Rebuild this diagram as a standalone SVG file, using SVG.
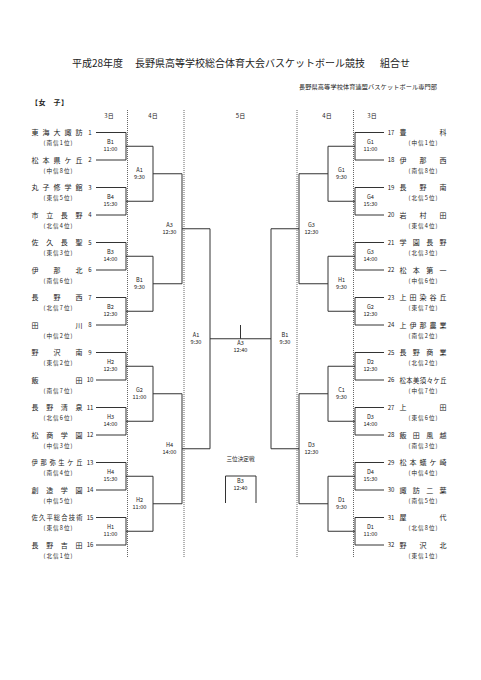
<svg xmlns="http://www.w3.org/2000/svg" width="481" height="680" viewBox="0 0 481 680">
<style>
text{font-family:"Noto Sans CJK JP","Noto Sans",sans-serif;fill:#222}
.ti{font-size:10px}
.st{font-size:6.2px}
.hd{font-size:7px;font-weight:bold}
.dy{font-size:6px;text-anchor:middle}
.nm{font-size:7px}
.nl{font-size:6.3px}
.no{font-size:6px;text-anchor:middle}
.sb{font-size:5.6px;text-anchor:middle}
.lb{font-size:5.6px;text-anchor:middle}
.br{fill:none;stroke:#333;stroke-width:1}
.dl{fill:none;stroke:#666;stroke-width:1;stroke-dasharray:1 1}
</style>
<rect width="481" height="680" fill="#fff"/>
<g id="header">
<text class="ti" y="66.5"><tspan x="72">平成28年度</tspan><tspan x="135" textLength="230" lengthAdjust="spacing">長野県高等学校総合体育大会バスケットボール競技</tspan><tspan x="380">組合せ</tspan></text>
<text class="st" x="299" y="89" textLength="138" lengthAdjust="spacing">長野県高等学校体育連盟バスケットボール専門部</text>
<text class="hd" x="31" y="104.5" textLength="37" lengthAdjust="spacing">【女　子】</text>
<text class="dy" x="109" y="118">3日</text>
<text class="dy" x="153" y="118">4日</text>
<text class="dy" x="240.5" y="118">5日</text>
<text class="dy" x="327" y="118">4日</text>
<text class="dy" x="372" y="118">3日</text>
</g>
<g id="connectors">
<path class="dl" d="M127.5,110V558M184,110V558M297,110V558M353.5,110V558"/>
<path class="br" d="M96,132.5H126V160H96M126,146.25H153 M96,187.5H126V215H96M126,201.25H153 M96,242.5H126V270H96M126,256.25H153 M96,297.5H126V325H96M126,311.25H153 M96,352.5H126V380H96M126,366.25H153 M96,407.5H126V435H96M126,421.25H153 M96,462.5H126V490H96M126,476.25H153 M96,517.5H126V545H96M126,531.25H153"/>
<path class="br" d="M153,146.25V201.25M153,173.75H182 M153,256.25V311.25M153,283.75H182 M153,366.25V421.25M153,393.75H182 M153,476.25V531.25M153,503.75H182"/>
<path class="br" d="M182,173.75V283.75M182,228.75H210 M182,393.75V503.75M182,448.75H210"/>
<path class="br" d="M210,228.75V448.75M210,338.75H271M271,228.75V448.75M240.5,325V338.75"/>
<path class="br" d="M384,132.5H355V160H384M355,146.25H328 M384,187.5H355V215H384M355,201.25H328 M384,242.5H355V270H384M355,256.25H328 M384,297.5H355V325H384M355,311.25H328 M384,352.5H355V380H384M355,366.25H328 M384,407.5H355V435H384M355,421.25H328 M384,462.5H355V490H384M355,476.25H328 M384,517.5H355V545H384M355,531.25H328"/>
<path class="br" d="M328,146.25V201.25M328,173.75H299 M328,256.25V311.25M328,283.75H299 M328,366.25V421.25M328,393.75H299 M328,476.25V531.25M328,503.75H299"/>
<path class="br" d="M299,173.75V283.75M299,228.75H271 M299,393.75V503.75M299,448.75H271"/>
<path class="br" d="M225.5,503V476H256V503"/>
</g>
<g id="teams-left">
<g id="t1"><text class="nm" x="31.5" y="135" textLength="51" lengthAdjust="spacing">東海大諏訪</text><text class="no" x="90" y="134.5">1</text><text class="sb" x="58" y="145" textLength="29">(南信1位)</text></g>
<g id="t2"><text class="nm" x="31.5" y="162.5" textLength="51" lengthAdjust="spacing">松本県ケ丘</text><text class="no" x="90" y="162">2</text><text class="sb" x="58" y="172.5" textLength="29">(中信8位)</text></g>
<g id="t3"><text class="nm" x="31.5" y="190" textLength="51" lengthAdjust="spacing">丸子修学館</text><text class="no" x="90" y="189.5">3</text><text class="sb" x="58" y="200" textLength="29">(東信5位)</text></g>
<g id="t4"><text class="nm" x="31.5" y="217.5" textLength="51" lengthAdjust="spacing">市立長野</text><text class="no" x="90" y="217">4</text><text class="sb" x="58" y="227.5" textLength="29">(北信4位)</text></g>
<g id="t5"><text class="nm" x="31.5" y="245" textLength="51" lengthAdjust="spacing">佐久長聖</text><text class="no" x="90" y="244.5">5</text><text class="sb" x="58" y="255" textLength="29">(東信3位)</text></g>
<g id="t6"><text class="nm" x="31.5" y="272.5" textLength="51" lengthAdjust="spacing">伊那北</text><text class="no" x="90" y="272">6</text><text class="sb" x="58" y="282.5" textLength="29">(南信6位)</text></g>
<g id="t7"><text class="nm" x="31.5" y="300" textLength="51" lengthAdjust="spacing">長野西</text><text class="no" x="90" y="299.5">7</text><text class="sb" x="58" y="310" textLength="29">(北信7位)</text></g>
<g id="t8"><text class="nm" x="31.5" y="327.5" textLength="51" lengthAdjust="spacing">田川</text><text class="no" x="90" y="327">8</text><text class="sb" x="58" y="337.5" textLength="29">(中信2位)</text></g>
<g id="t9"><text class="nm" x="31.5" y="355" textLength="51" lengthAdjust="spacing">野沢南</text><text class="no" x="90" y="354.5">9</text><text class="sb" x="58" y="365" textLength="29">(東信2位)</text></g>
<g id="t10"><text class="nm" x="31.5" y="382.5" textLength="51" lengthAdjust="spacing">飯田</text><text class="no" x="90" y="382">10</text><text class="sb" x="58" y="392.5" textLength="29">(南信7位)</text></g>
<g id="t11"><text class="nm" x="31.5" y="410" textLength="51" lengthAdjust="spacing">長野清泉</text><text class="no" x="90" y="409.5">11</text><text class="sb" x="58" y="420" textLength="29">(北信6位)</text></g>
<g id="t12"><text class="nm" x="31.5" y="437.5" textLength="51" lengthAdjust="spacing">松商学園</text><text class="no" x="90" y="437">12</text><text class="sb" x="58" y="447.5" textLength="29">(中信3位)</text></g>
<g id="t13"><text class="nl" x="31.5" y="465" textLength="51" lengthAdjust="spacing">伊那弥生ケ丘</text><text class="no" x="90" y="464.5">13</text><text class="sb" x="58" y="475" textLength="29">(南信4位)</text></g>
<g id="t14"><text class="nm" x="31.5" y="492.5" textLength="51" lengthAdjust="spacing">創造学園</text><text class="no" x="90" y="492">14</text><text class="sb" x="58" y="502.5" textLength="29">(中信5位)</text></g>
<g id="t15"><text class="nl" x="31.5" y="520" textLength="51" lengthAdjust="spacing">佐久平総合技術</text><text class="no" x="90" y="519.5">15</text><text class="sb" x="58" y="530" textLength="29">(東信8位)</text></g>
<g id="t16"><text class="nm" x="31.5" y="547.5" textLength="51" lengthAdjust="spacing">長野吉田</text><text class="no" x="90" y="547">16</text><text class="sb" x="58" y="557.5" textLength="29">(北信1位)</text></g>
</g>
<g id="teams-right">
<g id="t17"><text class="no" x="391" y="134.5">17</text><text class="nm" x="399.5" y="135" textLength="47" lengthAdjust="spacing">豊科</text><text class="sb" x="423" y="145" textLength="29">(中信1位)</text></g>
<g id="t18"><text class="no" x="391" y="162">18</text><text class="nm" x="399.5" y="162.5" textLength="47" lengthAdjust="spacing">伊那西</text><text class="sb" x="423" y="172.5" textLength="29">(南信8位)</text></g>
<g id="t19"><text class="no" x="391" y="189.5">19</text><text class="nm" x="399.5" y="190" textLength="47" lengthAdjust="spacing">長野南</text><text class="sb" x="423" y="200" textLength="29">(北信5位)</text></g>
<g id="t20"><text class="no" x="391" y="217">20</text><text class="nm" x="399.5" y="217.5" textLength="47" lengthAdjust="spacing">岩村田</text><text class="sb" x="423" y="227.5" textLength="29">(東信4位)</text></g>
<g id="t21"><text class="no" x="391" y="244.5">21</text><text class="nm" x="399.5" y="245" textLength="47" lengthAdjust="spacing">学園長野</text><text class="sb" x="423" y="255" textLength="29">(北信3位)</text></g>
<g id="t22"><text class="no" x="391" y="272">22</text><text class="nm" x="399.5" y="272.5" textLength="47" lengthAdjust="spacing">松本第一</text><text class="sb" x="423" y="282.5" textLength="29">(中信6位)</text></g>
<g id="t23"><text class="no" x="391" y="299.5">23</text><text class="nm" x="399.5" y="300" textLength="47" lengthAdjust="spacing">上田染谷丘</text><text class="sb" x="423" y="310" textLength="29">(東信7位)</text></g>
<g id="t24"><text class="no" x="391" y="327">24</text><text class="nm" x="399.5" y="327.5" textLength="47" lengthAdjust="spacing">上伊那農業</text><text class="sb" x="423" y="337.5" textLength="29">(南信2位)</text></g>
<g id="t25"><text class="no" x="391" y="354.5">25</text><text class="nm" x="399.5" y="355" textLength="47" lengthAdjust="spacing">長野商業</text><text class="sb" x="423" y="365" textLength="29">(北信2位)</text></g>
<g id="t26"><text class="no" x="391" y="382">26</text><text class="nl" x="399.5" y="382.5" textLength="47" lengthAdjust="spacing">松本美須々ケ丘</text><text class="sb" x="423" y="392.5" textLength="29">(中信7位)</text></g>
<g id="t27"><text class="no" x="391" y="409.5">27</text><text class="nm" x="399.5" y="410" textLength="47" lengthAdjust="spacing">上田</text><text class="sb" x="423" y="420" textLength="29">(東信6位)</text></g>
<g id="t28"><text class="no" x="391" y="437">28</text><text class="nm" x="399.5" y="437.5" textLength="47" lengthAdjust="spacing">飯田風越</text><text class="sb" x="423" y="447.5" textLength="29">(南信3位)</text></g>
<g id="t29"><text class="no" x="391" y="464.5">29</text><text class="nm" x="399.5" y="465" textLength="47" lengthAdjust="spacing">松本蟻ケ崎</text><text class="sb" x="423" y="475" textLength="29">(中信4位)</text></g>
<g id="t30"><text class="no" x="391" y="492">30</text><text class="nm" x="399.5" y="492.5" textLength="47" lengthAdjust="spacing">諏訪二葉</text><text class="sb" x="423" y="502.5" textLength="29">(南信5位)</text></g>
<g id="t31"><text class="no" x="391" y="519.5">31</text><text class="nm" x="399.5" y="520" textLength="47" lengthAdjust="spacing">屋代</text><text class="sb" x="423" y="530" textLength="29">(北信8位)</text></g>
<g id="t32"><text class="no" x="391" y="547">32</text><text class="nm" x="399.5" y="547.5" textLength="47" lengthAdjust="spacing">野沢北</text><text class="sb" x="423" y="557.5" textLength="29">(東信1位)</text></g>
</g>
<g id="matches-left">
<g id="mL1"><text class="lb"><tspan x="110.5" y="144.25">B1</tspan><tspan x="110.5" y="151.25">11:00</tspan></text></g>
<g id="mL2"><text class="lb"><tspan x="110.5" y="199.25">B4</tspan><tspan x="110.5" y="206.25">15:30</tspan></text></g>
<g id="mL3"><text class="lb"><tspan x="110.5" y="254.25">B3</tspan><tspan x="110.5" y="261.25">14:00</tspan></text></g>
<g id="mL4"><text class="lb"><tspan x="110.5" y="309.25">B2</tspan><tspan x="110.5" y="316.25">12:30</tspan></text></g>
<g id="mL5"><text class="lb"><tspan x="110.5" y="364.25">H2</tspan><tspan x="110.5" y="371.25">12:30</tspan></text></g>
<g id="mL6"><text class="lb"><tspan x="110.5" y="419.25">H3</tspan><tspan x="110.5" y="426.25">14:00</tspan></text></g>
<g id="mL7"><text class="lb"><tspan x="110.5" y="474.25">H4</tspan><tspan x="110.5" y="481.25">15:30</tspan></text></g>
<g id="mL8"><text class="lb"><tspan x="110.5" y="529.25">H1</tspan><tspan x="110.5" y="536.25">11:00</tspan></text></g>
<g id="mL9"><text class="lb"><tspan x="139.5" y="171.75">A1</tspan><tspan x="139.5" y="178.75">9:30</tspan></text></g>
<g id="mL10"><text class="lb"><tspan x="139.5" y="281.75">B1</tspan><tspan x="139.5" y="288.75">9:30</tspan></text></g>
<g id="mL11"><text class="lb"><tspan x="139.5" y="391.75">G2</tspan><tspan x="139.5" y="398.75">11:00</tspan></text></g>
<g id="mL12"><text class="lb"><tspan x="139.5" y="501.75">H2</tspan><tspan x="139.5" y="508.75">11:00</tspan></text></g>
<g id="mL13"><text class="lb"><tspan x="169.5" y="226.75">A3</tspan><tspan x="169.5" y="233.75">12:30</tspan></text></g>
<g id="mL14"><text class="lb"><tspan x="169.5" y="446.75">H4</tspan><tspan x="169.5" y="453.75">14:00</tspan></text></g>
<g id="mL15"><text class="lb"><tspan x="196" y="336.75">A1</tspan><tspan x="196" y="343.75">9:30</tspan></text></g>
</g>
<g id="matches-right">
<g id="mR1"><text class="lb"><tspan x="370.5" y="144.25">G1</tspan><tspan x="370.5" y="151.25">11:00</tspan></text></g>
<g id="mR2"><text class="lb"><tspan x="370.5" y="199.25">G4</tspan><tspan x="370.5" y="206.25">15:30</tspan></text></g>
<g id="mR3"><text class="lb"><tspan x="370.5" y="254.25">G3</tspan><tspan x="370.5" y="261.25">14:00</tspan></text></g>
<g id="mR4"><text class="lb"><tspan x="370.5" y="309.25">G2</tspan><tspan x="370.5" y="316.25">12:30</tspan></text></g>
<g id="mR5"><text class="lb"><tspan x="370.5" y="364.25">D2</tspan><tspan x="370.5" y="371.25">12:30</tspan></text></g>
<g id="mR6"><text class="lb"><tspan x="370.5" y="419.25">D3</tspan><tspan x="370.5" y="426.25">14:00</tspan></text></g>
<g id="mR7"><text class="lb"><tspan x="370.5" y="474.25">D4</tspan><tspan x="370.5" y="481.25">15:30</tspan></text></g>
<g id="mR8"><text class="lb"><tspan x="370.5" y="529.25">D1</tspan><tspan x="370.5" y="536.25">11:00</tspan></text></g>
<g id="mR9"><text class="lb"><tspan x="341.5" y="171.75">G1</tspan><tspan x="341.5" y="178.75">9:30</tspan></text></g>
<g id="mR10"><text class="lb"><tspan x="341.5" y="281.75">H1</tspan><tspan x="341.5" y="288.75">9:30</tspan></text></g>
<g id="mR11"><text class="lb"><tspan x="341.5" y="391.75">C1</tspan><tspan x="341.5" y="398.75">9:30</tspan></text></g>
<g id="mR12"><text class="lb"><tspan x="341.5" y="501.75">D1</tspan><tspan x="341.5" y="508.75">9:30</tspan></text></g>
<g id="mR13"><text class="lb"><tspan x="311.5" y="226.75">G3</tspan><tspan x="311.5" y="233.75">12:30</tspan></text></g>
<g id="mR14"><text class="lb"><tspan x="311.5" y="446.75">D3</tspan><tspan x="311.5" y="453.75">12:30</tspan></text></g>
<g id="mR15"><text class="lb"><tspan x="285" y="336.75">B1</tspan><tspan x="285" y="343.75">9:30</tspan></text></g>
</g>
<g id="final"><text class="lb"><tspan x="240.5" y="345">A3</tspan><tspan x="240.5" y="351.5">12:40</tspan></text></g>
<g id="third-place">
<text class="lb" x="240.5" y="461" font-size="6">三位決定戦</text>
<text class="lb"><tspan x="240.5" y="483">B3</tspan><tspan x="240.5" y="489.5">12:40</tspan></text>
</g>
</svg>
